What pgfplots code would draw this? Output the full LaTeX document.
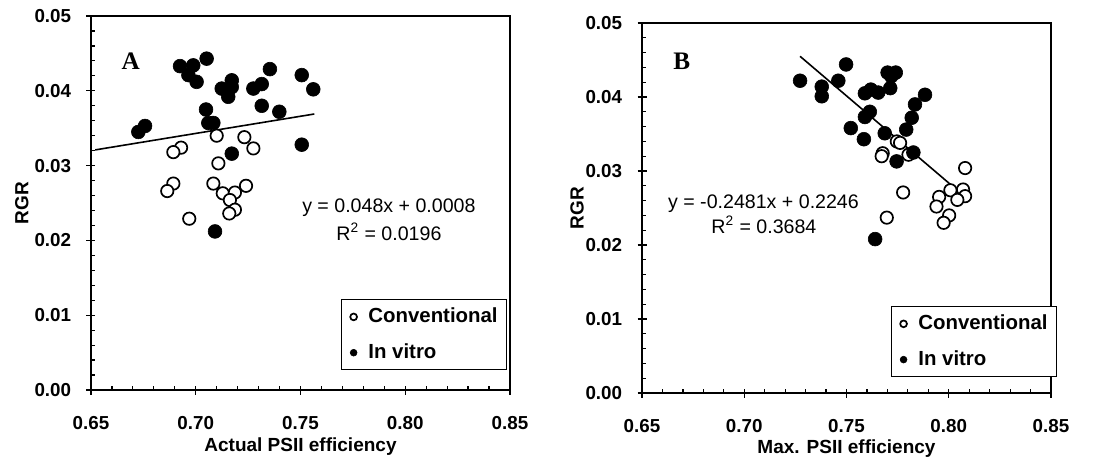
\documentclass[border=0pt]{standalone}
\usepackage{fontspec}
\setmainfont{Liberation Sans}
\newfontfamily\serifbf{Liberation Serif}
\usepackage{pgfplots}
\pgfplotsset{compat=1.18}
\pgfplotsset{
  psii/.style={
    scale only axis,
    anchor=south west,
    xmin=0.65, xmax=0.85, ymin=0, ymax=0.05,
    xtick={0.65,0.70,0.75,0.80,0.85},
    ytick={0,0.01,0.02,0.03,0.04,0.05},
    minor x tick num=4, minor y tick num=4,
    xtick pos=bottom, ytick pos=left,
    tick align=center,
    major tick length=4.5pt, minor tick length=2pt,
    minor x tick style={yshift=1pt},
    minor y tick style={xshift=1pt},
    every tick/.style={black, line width=0.6pt},
    axis line style={line width=1pt},
    /pgf/number format/assume math mode=true,
    xticklabel style={/pgf/number format/.cd, fixed, fixed zerofill, precision=2, /tikz/.cd,
      font=\fontsize{9.4}{11}\selectfont\bfseries, inner sep=0pt, anchor=center},
    yticklabel style={/pgf/number format/.cd, fixed, fixed zerofill, precision=2, /tikz/.cd,
      font=\fontsize{9.4}{11}\selectfont\bfseries, inner sep=0pt, anchor=east},
    xticklabel shift=14.5pt,
    yticklabel shift=7.5pt,
    scaled ticks=false,
    label style={font=\fontsize{9.5}{11}\selectfont\bfseries},
    ylabel={RGR},
    legend cell align=left,
    legend image code/.code={\draw[##1, mark size=1.7pt, line width=0.6pt] plot coordinates {(3pt,0pt)};},
    legend style={anchor=north west, draw=black, line width=0.5pt,
      font=\fontsize{10.2}{12}\selectfont\bfseries,
      inner xsep=4.3pt, inner ysep=4.2pt, row sep=9pt,
      nodes={inner sep=0pt},
      /tikz/every odd column/.append style={column sep=5.7pt}},
    conv/.style={only marks, mark=*, mark size=3.1pt, mark options={fill=white, draw=black, line width=0.85pt}},
    vitro/.style={only marks, mark=*, mark size=3.45pt, mark options={fill=black, draw=black, line width=0.3pt}},
  }
}
\begin{document}
\begin{tikzpicture}
\path[use as bounding box] (0,0) rectangle (552.5pt,231.5pt);
% ---------------- Panel A ----------------
\begin{axis}[psii, at={(45.5pt,36.5pt)}, width=209.5pt, height=187pt,
  xlabel={Actual PSII efficiency},
  xlabel style={at={(axis description cs:0.5,-0.150)}, anchor=center},
  ylabel style={at={(axis description cs:-0.165,0.5)}, anchor=center},
  legend style={at={(axis description cs:0.597,0.243)}}]
\addplot[conv] coordinates {
(0.7100,0.0340) (0.7232,0.0338) (0.7275,0.0323) (0.6930,0.0324) (0.6893,0.0318)
(0.7108,0.0303) (0.6893,0.0276) (0.6864,0.0266) (0.7084,0.0276) (0.7129,0.0263)
(0.7187,0.0264) (0.7240,0.0273) (0.7163,0.0254) (0.7187,0.0241) (0.7160,0.0236)
(0.6969,0.0229)};
\addlegendentry{Conventional}
\addplot[vitro] coordinates {
(0.7052,0.0443) (0.6925,0.0433) (0.6988,0.0434) (0.6965,0.0421) (0.7004,0.0412)
(0.7172,0.0414) (0.7124,0.0403) (0.7172,0.0405) (0.7155,0.0392) (0.7275,0.0403)
(0.7315,0.0409) (0.7354,0.0429) (0.7506,0.0421) (0.7561,0.0402) (0.7049,0.0375)
(0.7315,0.0380) (0.7399,0.0372) (0.7060,0.0357) (0.7084,0.0357) (0.6726,0.0345)
(0.6758,0.0353) (0.7506,0.0328) (0.7172,0.0316) (0.7092,0.0212)};
\addlegendentry{In vitro}
\addplot[black, line width=0.8pt, forget plot] coordinates {(0.652,0.0321) (0.7566,0.0369)};
\node[font=\fontsize{12.6}{14}\selectfont\serifbf\bfseries, anchor=base] at (axis description cs:0.095,0.856) {A};
\node[font=\fontsize{9.8}{12}\selectfont, anchor=base] at (axis description cs:0.711,0.475) {y = 0.048x + 0.0008};
\node[font=\fontsize{9.8}{12}\selectfont, anchor=base] at (axis description cs:0.711,0.401) {R\textsuperscript{2} = 0.0196};
\end{axis}
% ---------------- Panel B ----------------
\begin{axis}[psii, at={(321pt,35pt)}, width=204.5pt, height=185pt,
  xlabel={Max. PSII efficiency},
  xlabel style={at={(axis description cs:0.5,-0.149)}, anchor=center},
  ylabel style={at={(axis description cs:-0.159,0.5)}, anchor=center},
  legend style={at={(axis description cs:0.609,0.235)}}]
\addplot[conv] coordinates {
(0.7746,0.0340) (0.7762,0.0338) (0.7677,0.0324) (0.7672,0.0320) (0.7803,0.0322)
(0.8080,0.0304) (0.7777,0.0271) (0.8008,0.0274) (0.8070,0.0275) (0.8080,0.0266)
(0.8042,0.0261) (0.7953,0.0265) (0.7940,0.0252) (0.8002,0.0240) (0.7975,0.0230)
(0.7697,0.0237)};
\addlegendentry{Conventional}
\addplot[vitro] coordinates {
(0.7273,0.0422) (0.7379,0.0414) (0.7379,0.0401) (0.7460,0.0422) (0.7498,0.0444)
(0.7590,0.0405) (0.7619,0.0410) (0.7655,0.0406) (0.7714,0.0412) (0.7701,0.0433)
(0.7741,0.0433) (0.7719,0.0428) (0.7884,0.0403) (0.7835,0.0390) (0.7819,0.0372)
(0.7792,0.0356) (0.7590,0.0373) (0.7614,0.0380) (0.7521,0.0358) (0.7585,0.0343)
(0.7687,0.0351) (0.7827,0.0325) (0.7745,0.0313) (0.7640,0.0208)};
\addlegendentry{In vitro}
\addplot[black, line width=0.8pt, forget plot] coordinates {(0.7273,0.0455) (0.8080,0.0265)};
\node[font=\fontsize{12.6}{14}\selectfont\serifbf\bfseries, anchor=base] at (axis description cs:0.097,0.873) {B};
\node[font=\fontsize{9.8}{12}\selectfont, anchor=base] at (axis description cs:0.297,0.499) {y = -0.2481x + 0.2246};
\node[font=\fontsize{9.8}{12}\selectfont, anchor=base] at (axis description cs:0.298,0.432) {R\textsuperscript{2} = 0.3684};
\end{axis}
\end{tikzpicture}
\end{document}
